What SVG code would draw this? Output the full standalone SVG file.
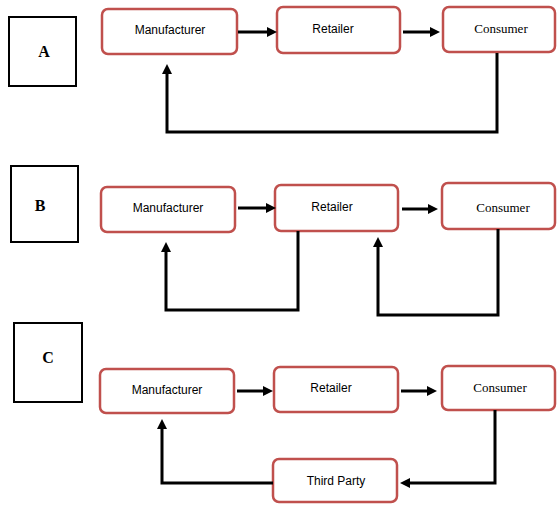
<svg xmlns="http://www.w3.org/2000/svg" width="557" height="506" viewBox="0 0 557 506">
<style>
.node{fill:#fff;stroke:#c0504d;stroke-width:2.5}
.sq{fill:#fff;stroke:#000;stroke-width:2}
.lbl{font-family:"Liberation Sans",Arial,sans-serif;font-size:12px;fill:#000;text-anchor:middle}
.ser{font-family:"Liberation Serif","Times New Roman",serif;font-size:13px;fill:#000;text-anchor:middle}
.let{font-family:"Liberation Serif","Times New Roman",serif;font-size:16px;font-weight:bold;fill:#000;text-anchor:middle}
.c{fill:none;stroke:#000;stroke-width:3;marker-end:url(#ah)}
</style>
<defs>
<marker id="ah" markerUnits="userSpaceOnUse" markerWidth="10" markerHeight="10" refX="4" refY="5" orient="auto">
<path d="M0,0 L10,5 L0,10 z" fill="#000"/>
</marker>
</defs>
<rect width="557" height="506" fill="#fff"/>
<g id="labelA"><rect class="sq" x="9" y="17" width="67" height="69"/><text class="let" x="44" y="57">A</text></g>
<g id="labelB"><rect class="sq" x="11" y="166" width="67" height="76"/><text class="let" x="40" y="211">B</text></g>
<g id="labelC"><rect class="sq" x="14" y="323" width="68" height="79"/><text class="let" x="48" y="363">C</text></g>

<g id="a-manufacturer"><rect class="node" x="102" y="9" width="135" height="45" rx="6"/><text class="lbl" x="170" y="34">Manufacturer</text></g>
<g id="a-retailer"><rect class="node" x="277" y="7" width="123" height="46" rx="6"/><text class="lbl" x="333" y="33">Retailer</text></g>
<g id="a-consumer"><rect class="node" x="443" y="7" width="112" height="45" rx="6"/><text class="ser" x="501" y="33">Consumer</text></g>

<g id="b-manufacturer"><rect class="node" x="101" y="187" width="134" height="45" rx="6"/><text class="lbl" x="168" y="212">Manufacturer</text></g>
<g id="b-retailer"><rect class="node" x="275" y="185" width="123" height="46" rx="6"/><text class="lbl" x="332" y="211">Retailer</text></g>
<g id="b-consumer"><rect class="node" x="442" y="183" width="113" height="46" rx="6"/><text class="ser" x="503" y="212">Consumer</text></g>

<g id="c-manufacturer"><rect class="node" x="100" y="369" width="134" height="44" rx="6"/><text class="lbl" x="167" y="394">Manufacturer</text></g>
<g id="c-retailer"><rect class="node" x="274" y="367" width="124" height="45" rx="6"/><text class="lbl" x="331" y="392">Retailer</text></g>
<g id="c-consumer"><rect class="node" x="442" y="366" width="113" height="44" rx="6"/><text class="ser" x="500" y="392">Consumer</text></g>
<g id="c-thirdparty"><rect class="node" x="273" y="459" width="124" height="43" rx="6"/><text class="lbl" x="336" y="485">Third Party</text></g>

<g id="connectors">
<path class="c" d="M238,32 H271"/>
<path class="c" d="M403,32 H434"/>
<path class="c" d="M497,53 V132 H167 V70"/>

<path class="c" d="M238,208 H270"/>
<path class="c" d="M402,209 H432"/>
<path class="c" d="M298,231 V310 H166 V248"/>
<path class="c" d="M498,229 V315 H378 V243"/>

<path class="c" d="M237,391 H267"/>
<path class="c" d="M401,391 H431"/>
<path class="c" d="M495,410 V483 H406"/>
<path class="c" d="M273,483 H162 V425"/>
</g>
</svg>
